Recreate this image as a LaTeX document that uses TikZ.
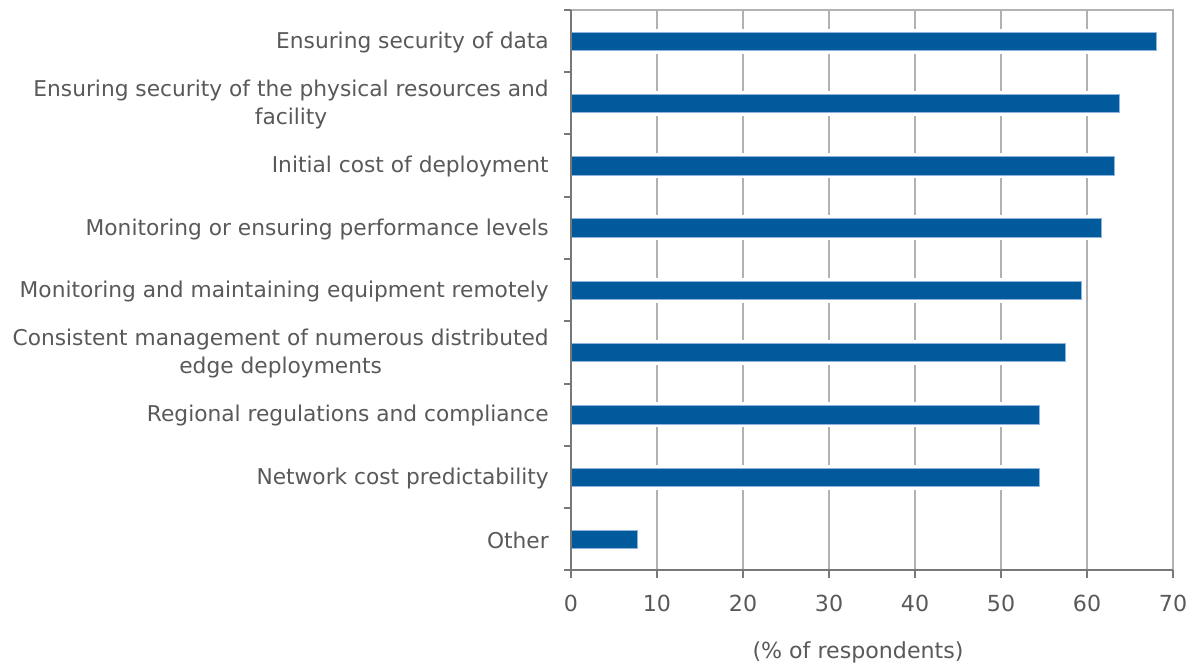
\documentclass[tikz,border=0pt]{standalone}
\usepackage{fontspec}
\setmainfont{DejaVu Sans}
\definecolor{barblue}{RGB}{0,90,156}
\definecolor{baredge}{RGB}{140,180,220}
\definecolor{txtgray}{RGB}{89,89,89}
\definecolor{gridgray}{RGB}{178,178,178}
\definecolor{axisgray}{RGB}{120,120,120}
\tikzset{
  lbl/.style={anchor=east,align=center,text=txtgray,inner sep=0pt,
    font=\fontsize{16.3}{21}\selectfont},
  ticklbl/.style={text=txtgray,inner sep=0pt,font=\fontsize{16.6}{19}\selectfont},
  gridline/.style={gridgray,line width=1.5pt},
  axisline/.style={axisgray,line width=1.5pt},
  hbar/.style={fill=barblue,draw=baredge,line width=0.4pt},
  gap/.style={fill=white},
}
\begin{document}
\begin{tikzpicture}[x=0.75pt,y=-0.75pt]
\useasboundingbox (0,0) rectangle (1197,667);

\draw[gridline] (571,10) -- (1173,10) -- (1173,570);
\draw[gridline] (657,10) -- (657,570);
\draw[gridline] (743,10) -- (743,570);
\draw[gridline] (829,10) -- (829,570);
\draw[gridline] (915,10) -- (915,570);
\draw[gridline] (1001,10) -- (1001,570);
\draw[gridline] (1087,10) -- (1087,570);

\fill[gap] (571,28.6) rectangle (1156.7,53.6);
\draw[hbar] (571,31.9) rectangle (1156.7,50.3);
\fill[gap] (571,90.9) rectangle (1119.7,115.9);
\draw[hbar] (571,94.2) rectangle (1119.7,112.6);
\fill[gap] (571,153.2) rectangle (1114.5,178.2);
\draw[hbar] (571,156.5) rectangle (1114.5,174.9);
\fill[gap] (571,215.4) rectangle (1101.6,240.4);
\draw[hbar] (571,218.7) rectangle (1101.6,237.1);
\fill[gap] (571,277.7) rectangle (1081,302.7);
\draw[hbar] (571,281) rectangle (1081,299.4);
\fill[gap] (571,339.9) rectangle (1065.5,364.9);
\draw[hbar] (571,343.2) rectangle (1065.5,361.6);
\fill[gap] (571,402.2) rectangle (1039.7,427.2);
\draw[hbar] (571,405.5) rectangle (1039.7,423.9);
\fill[gap] (571,464.5) rectangle (1039.7,489.5);
\draw[hbar] (571,467.8) rectangle (1039.7,486.2);
\fill[gap] (571,526.7) rectangle (637.2,551.7);
\draw[hbar] (571,530) rectangle (637.2,548.4);

\draw[axisline] (571,10) -- (571,570.3) -- (1173,570.3);
\draw[axisline] (564,10) -- (571,10);
\draw[axisline] (564,72.3) -- (571,72.3);
\draw[axisline] (564,134.5) -- (571,134.5);
\draw[axisline] (564,196.8) -- (571,196.8);
\draw[axisline] (564,259) -- (571,259);
\draw[axisline] (564,321.3) -- (571,321.3);
\draw[axisline] (564,383.6) -- (571,383.6);
\draw[axisline] (564,445.8) -- (571,445.8);
\draw[axisline] (564,508.1) -- (571,508.1);
\draw[axisline] (564,570.3) -- (571,570.3);
\draw[axisline] (571,570.3) -- (571,577.5);
\draw[axisline] (657,570.3) -- (657,577.5);
\draw[axisline] (743,570.3) -- (743,577.5);
\draw[axisline] (829,570.3) -- (829,577.5);
\draw[axisline] (915,570.3) -- (915,577.5);
\draw[axisline] (1001,570.3) -- (1001,577.5);
\draw[axisline] (1087,570.3) -- (1087,577.5);
\draw[axisline] (1173,570.3) -- (1173,577.5);

\node[lbl] (data) at (549,42.5) {Ensuring security of data};
\node[lbl] (phys) at (549,104.8) {Ensuring security of the physical resources and\\facility};
\node[lbl] (cost) at (549,167) {Initial cost of deployment};
\node[lbl] (perf) at (549,229.2) {Monitoring or ensuring performance levels};
\node[lbl] (remote) at (549,291.5) {Monitoring and maintaining equipment remotely};
\node[lbl] (edge) at (549,353.8) {Consistent management of numerous distributed\\edge deployments};
\node[lbl] (regul) at (549,416) {Regional regulations and compliance};
\node[lbl] (net) at (549,478.3) {Network cost predictability};
\node[lbl] (other) at (549,540.5) {Other};

\node[ticklbl] (t0) at (571,603) {0};
\node[ticklbl] (t10) at (657,603) {10};
\node[ticklbl] (t20) at (743,603) {20};
\node[ticklbl] (t30) at (829,603) {30};
\node[ticklbl] (t40) at (915,603) {40};
\node[ticklbl] (t50) at (1001,603) {50};
\node[ticklbl] (t60) at (1087,603) {60};
\node[ticklbl] (t70) at (1173,603) {70};
\node[ticklbl] (xtitle) at (858,652) {(\% of respondents)};
\end{tikzpicture}
\end{document}
